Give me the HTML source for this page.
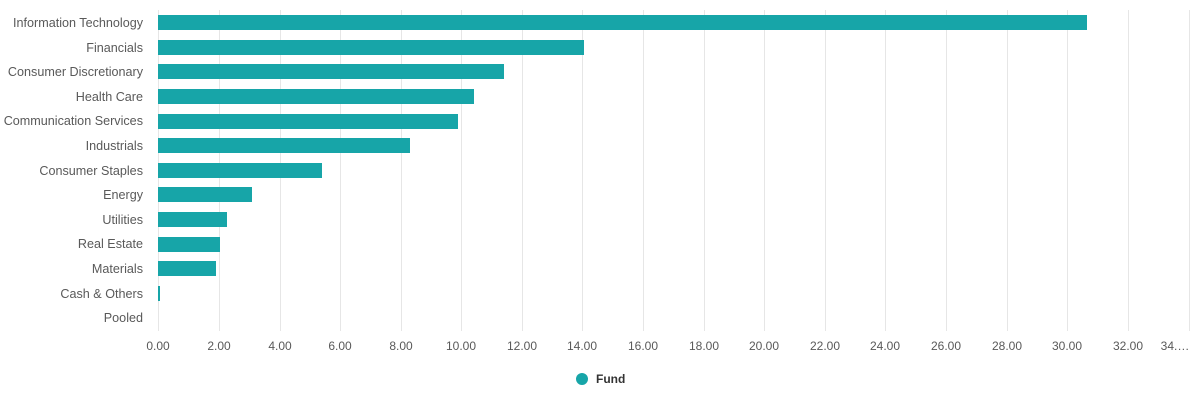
<!DOCTYPE html>
<html><head><style>body{margin:0;background:#fff}svg{display:block}text{font-family:"Liberation Sans",sans-serif;font-size:12px;fill:#595959}.c text{font-size:12.6px}</style></head><body>
<svg width="1200" height="406" xmlns="http://www.w3.org/2000/svg">
<g stroke="#e6e6e6" stroke-width="1">
<line x1="158.5" y1="10" x2="158.5" y2="331"/><line x1="219.5" y1="10" x2="219.5" y2="331"/><line x1="280.5" y1="10" x2="280.5" y2="331"/><line x1="340.5" y1="10" x2="340.5" y2="331"/><line x1="401.5" y1="10" x2="401.5" y2="331"/><line x1="461.5" y1="10" x2="461.5" y2="331"/><line x1="522.5" y1="10" x2="522.5" y2="331"/><line x1="582.5" y1="10" x2="582.5" y2="331"/><line x1="643.5" y1="10" x2="643.5" y2="331"/><line x1="704.5" y1="10" x2="704.5" y2="331"/><line x1="764.5" y1="10" x2="764.5" y2="331"/><line x1="825.5" y1="10" x2="825.5" y2="331"/><line x1="885.5" y1="10" x2="885.5" y2="331"/><line x1="946.5" y1="10" x2="946.5" y2="331"/><line x1="1007.5" y1="10" x2="1007.5" y2="331"/><line x1="1067.5" y1="10" x2="1067.5" y2="331"/><line x1="1128.5" y1="10" x2="1128.5" y2="331"/><line x1="1189.5" y1="10" x2="1189.5" y2="331"/>
</g>
<g fill="#17a5a8">
<rect x="158" y="15" width="929" height="15"/>
<rect x="158" y="40" width="426" height="15"/>
<rect x="158" y="64" width="346" height="15"/>
<rect x="158" y="89" width="316" height="15"/>
<rect x="158" y="114" width="300" height="15"/>
<rect x="158" y="138" width="252" height="15"/>
<rect x="158" y="163" width="164" height="15"/>
<rect x="158" y="187" width="94" height="15"/>
<rect x="158" y="212" width="69" height="15"/>
<rect x="158" y="237" width="62" height="15"/>
<rect x="158" y="261" width="58" height="15"/>
<rect x="158" y="286" width="2" height="15"/>
</g>
<g text-anchor="end" class="c">
<text x="143" y="27">Information Technology</text>
<text x="143" y="52">Financials</text>
<text x="143" y="76">Consumer Discretionary</text>
<text x="143" y="101">Health Care</text>
<text x="143" y="125">Communication Services</text>
<text x="143" y="150">Industrials</text>
<text x="143" y="175">Consumer Staples</text>
<text x="143" y="199">Energy</text>
<text x="143" y="224">Utilities</text>
<text x="143" y="248">Real Estate</text>
<text x="143" y="273">Materials</text>
<text x="143" y="298">Cash &amp; Others</text>
<text x="143" y="322">Pooled</text>
</g>
<g text-anchor="middle">
<text x="158" y="350">0.00</text><text x="219" y="350">2.00</text><text x="280" y="350">4.00</text><text x="340" y="350">6.00</text><text x="401" y="350">8.00</text><text x="461" y="350">10.00</text><text x="522" y="350">12.00</text><text x="582" y="350">14.00</text><text x="643" y="350">16.00</text><text x="704" y="350">18.00</text><text x="764" y="350">20.00</text><text x="825" y="350">22.00</text><text x="885" y="350">24.00</text><text x="946" y="350">26.00</text><text x="1007" y="350">28.00</text><text x="1067" y="350">30.00</text><text x="1128" y="350">32.00</text><text x="1175" y="350">34.…</text>
</g>
<circle cx="582" cy="379" r="6" fill="#17a5a8"/>
<text x="596" y="383" style="font-weight:bold;fill:#333">Fund</text>
</svg>
</body></html>
